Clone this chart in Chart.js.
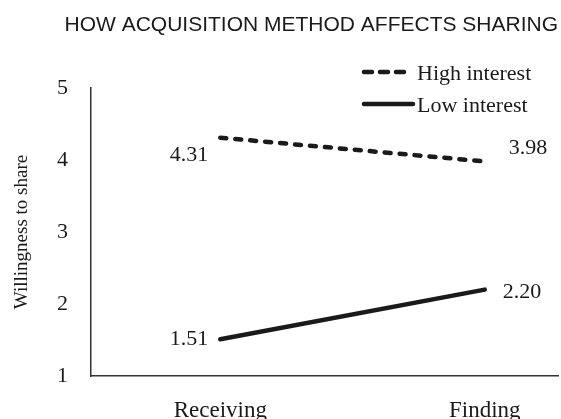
<!DOCTYPE html>
<html>
<head>
<meta charset="utf-8">
<script src="https://cdn.jsdelivr.net/npm/chart.js@4/dist/chart.umd.min.js"></script>
<style>
  html, body { margin: 0; padding: 0; background: #fff; }
  #wrap { width: 561px; height: 419px; }
</style>
</head>
<body>
<div id="wrap"><canvas id="graph" width="561" height="419"></canvas></div>
<script>
// Data
const categories = ['Receiving', 'Finding'];
const seriesNames = ['High interest', 'Low interest'];
const highInterest = [4.31, 3.98];
const lowInterest = [1.51, 2.20];
const yTicks = [1, 2, 3, 4, 5];

// label placement per point (styles, kept apart from the data)
const labelPlacement = [
  [{ dx: -12, dy: 18, align: 'right' }, { dx: 24, dy: -13, align: 'left' }],
  [{ dx: -12, dy: 0, align: 'right' }, { dx: 18, dy: 3, align: 'left' }]
];

const serif = '"Liberation Serif", "Times New Roman", serif';
const ink = '#1a1a1a';

const toPoints = (values) => values.map((v, i) => ({ x: i, y: v }));

// Draws the value next to each point
const valueLabels = {
  id: 'valueLabels',
  afterDatasetsDraw(chart) {
    const ctx = chart.ctx;
    ctx.save();
    ctx.font = '22px ' + serif;
    ctx.fillStyle = ink;
    ctx.textBaseline = 'middle';
    chart.data.datasets.forEach((ds, di) => {
      chart.getDatasetMeta(di).data.forEach((pt, i) => {
        const p = labelPlacement[di][i];
        ctx.textAlign = p.align;
        ctx.fillText(ds.data[i].y.toFixed(2), pt.x + p.dx, pt.y + p.dy);
      });
    });
    ctx.restore();
  }
};

// Legend with line samples in the top right corner
const lineLegend = {
  id: 'lineLegend',
  afterDraw(chart) {
    const ctx = chart.ctx;
    const x0 = 362, rows = [72, 104];
    ctx.save();
    chart.data.datasets.forEach((ds, di) => {
      const y = rows[di];
      const len = ds.borderDash.length ? 44 : 51;
      ctx.beginPath();
      ctx.lineWidth = ds.borderWidth;
      ctx.strokeStyle = ds.borderColor;
      ctx.lineCap = ds.borderCapStyle;
      ctx.setLineDash(ds.borderDash.length ? [8, 8] : []);
      ctx.moveTo(x0 + 2, y);
      ctx.lineTo(x0 + len, y);
      ctx.stroke();
      ctx.setLineDash([]);
      ctx.font = '22px ' + serif;
      ctx.fillStyle = ink;
      ctx.textAlign = 'left';
      ctx.textBaseline = 'middle';
      ctx.fillText(ds.label, 417, y + 2);
    });
    ctx.restore();
  }
};

const graphCtx = document.getElementById('graph').getContext('2d');

new Chart(graphCtx, {
  type: 'line',
  data: {
    datasets: [
      {
        label: seriesNames[0],
        data: toPoints(highInterest),
        borderColor: ink,
        borderWidth: 4.5,
        borderDash: [6, 9],
        borderCapStyle: 'round',
        pointRadius: 0,
        fill: false
      },
      {
        label: seriesNames[1],
        data: toPoints(lowInterest),
        borderColor: ink,
        borderWidth: 4.5,
        borderDash: [],
        borderCapStyle: 'round',
        pointRadius: 0,
        fill: false
      }
    ]
  },
  options: {
    responsive: false,
    animation: false,
    layout: { padding: { left: 0, right: 3, top: 0, bottom: 0 } },
    plugins: {
      legend: { display: false },
      tooltip: { enabled: false },
      title: {
        display: true,
        text: 'HOW ACQUISITION METHOD AFFECTS SHARING',
        align: 'end',
        color: ink,
        font: { family: '"Liberation Sans", Arial, sans-serif', size: 21, weight: 'normal' },
        padding: { top: 13, bottom: 49.8 }
      }
    },
    scales: {
      x: {
        type: 'linear',
        min: -0.489,
        max: 1.277,
        grid: { display: false },
        border: { display: true, color: '#333', width: 1.5 },
        afterBuildTicks(scale) {
          scale.ticks = categories.map((c, i) => ({ value: i }));
        },
        afterFit(scale) { scale.height = 43; },
        ticks: {
          padding: 13,
          color: ink,
          font: { family: serif, size: 23 },
          callback: (v) => categories[v]
        }
      },
      y: {
        min: yTicks[0],
        max: yTicks[yTicks.length - 1],
        grid: { display: false },
        border: { display: true, color: '#333', width: 1.5 },
        afterBuildTicks(scale) {
          scale.ticks = yTicks.map((v) => ({ value: v }));
        },
        afterFit(scale) { scale.width = 91; },
        ticks: {
          padding: 15,
          color: ink,
          font: { family: serif, size: 22 }
        },
        title: {
          display: true,
          text: 'Willingness to share',
          color: ink,
          font: { family: serif, size: 19 },
          padding: { top: 11, bottom: 0 }
        }
      }
    }
  },
  plugins: [valueLabels, lineLegend]
});
</script>
</body>
</html>
